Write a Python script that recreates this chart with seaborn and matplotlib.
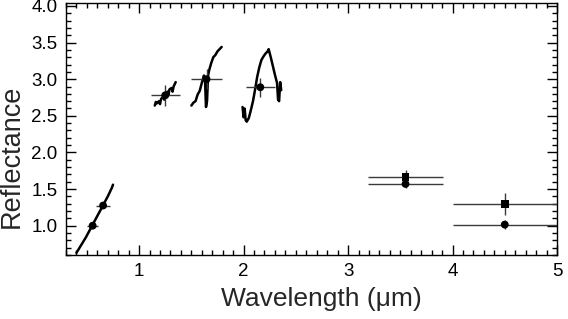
import matplotlib
matplotlib.use("Agg")
import matplotlib.pyplot as plt
from matplotlib.ticker import MultipleLocator
import seaborn as sns
import pandas as pd

# Spectra segments (wavelength in micron, reflectance)
wl_a = [0.40, 0.43, 0.46, 0.49, 0.52, 0.55, 0.58, 0.61, 0.64, 0.67, 0.70, 0.72, 0.74, 0.75]
r_a = [0.63, 0.70, 0.77, 0.84, 0.92, 1.00, 1.08, 1.16, 1.24, 1.32, 1.40, 1.46, 1.52, 1.56]

wl_b = [1.15, 1.16, 1.17, 1.19, 1.20, 1.21, 1.23, 1.24, 1.25, 1.27, 1.28, 1.29, 1.31, 1.32, 1.33, 1.35]
r_b = [2.64, 2.69, 2.67, 2.70, 2.66, 2.73, 2.76, 2.72, 2.78, 2.83, 2.78, 2.86, 2.88, 2.83, 2.90, 2.96]

wl_c = [1.50, 1.52, 1.54, 1.56, 1.58, 1.60, 1.62, 1.63, 1.64, 1.65, 1.66, 1.67, 1.69, 1.71, 1.73, 1.75, 1.77, 1.79]
r_c = [2.64, 2.68, 2.70, 2.79, 2.84, 2.95, 3.05, 3.02, 2.62, 2.70, 3.05, 3.12, 3.22, 3.30, 3.33, 3.38, 3.41, 3.44]

wl_d = [1.99, 2.00, 2.01, 2.02, 2.03, 2.05, 2.07, 2.09, 2.11, 2.13, 2.15, 2.17, 2.19, 2.21,
        2.23, 2.24, 2.26, 2.28, 2.30, 2.32, 2.33, 2.34, 2.35, 2.36]
r_d = [2.62, 2.48, 2.60, 2.44, 2.42, 2.47, 2.58, 2.70, 2.86, 3.03, 3.16, 3.26, 3.31, 3.35,
       3.38, 3.41, 3.30, 3.18, 3.06, 2.95, 2.72, 2.70, 2.96, 2.85]

# Photometric points with error bars
pt_x = [0.555, 0.655, 1.25, 1.645, 2.16, 3.55, 3.55, 4.50, 4.50]
pt_y = [1.00, 1.275, 2.78, 3.00, 2.89, 1.665, 1.57, 1.30, 1.015]
pt_xerr = [0.05, 0.065, 0.14, 0.145, 0.14, 0.36, 0.36, 0.50, 0.50]
pt_yerr = [0.03, 0.03, 0.14, 0.14, 0.13, 0.09, 0.06, 0.15, 0.06]
pt_kind = ["o", "o", "o", "o", "o", "s", "o", "s", "o"]

y_ticks = [1.0, 1.5, 2.0, 2.5, 3.0, 3.5, 4.0]
y_labels = ["1.0", "1.5", "2.0", "2.5", "3.0", "3.5", "4.0"]
x_ticks = [1, 2, 3, 4, 5]
x_labels = ["1", "2", "3", "4", "5"]

sns.set_style("ticks")
plt.rcParams["font.family"] = ["Liberation Sans", "DejaVu Sans"]

fig = plt.figure(figsize=(5.68, 3.19), dpi=100)
ax = fig.add_axes([66 / 568, 1 - 255 / 319, (557 - 66) / 568, (255 - 3) / 319])

segments = [(wl_a, r_a), (wl_b, r_b), (wl_c, r_c), (wl_d, r_d)]
for w, r in segments:
    df = pd.DataFrame({"wl": w, "r": r})
    sns.lineplot(data=df, x="wl", y="r", ax=ax, color="black", lw=1.8,
                 sort=False, estimator=None)

ax.errorbar(pt_x, pt_y, xerr=pt_xerr, yerr=pt_yerr, fmt="none",
            ecolor="#3a3a3a", elinewidth=1.0, capsize=0, zorder=3)
pdf = pd.DataFrame({"x": pt_x, "y": pt_y, "m": pt_kind})
sns.scatterplot(data=pdf, x="x", y="y", style="m", markers={"o": "o", "s": "s"},
                color="black", s=32, edgecolor="black", linewidth=0, ax=ax,
                legend=False, zorder=4)

ax.set_xlim(0.3, 5.0)
ax.set_ylim(0.6, 4.04)
ax.xaxis.set_minor_locator(MultipleLocator(0.1))
ax.yaxis.set_minor_locator(MultipleLocator(0.1))
ax.set_yticks(y_ticks)
ax.set_yticklabels(y_labels)
ax.set_xticks(x_ticks)
ax.set_xticklabels(x_labels)
ax.tick_params(which="both", direction="in", top=True, right=True, colors="black",
               labelsize=13.5, width=1)
ax.tick_params(which="major", length=7, pad=6)
ax.tick_params(which="minor", length=3.5)
for s in ax.spines.values():
    s.set_linewidth(1.0)
    s.set_color("black")

ax.set_xlabel("Wavelength (\u03bcm)", fontsize=19)
ax.set_ylabel("Reflectance", fontsize=19.5)
ax.xaxis.set_label_coords(0.52, -0.128)
ax.yaxis.set_label_coords(-0.083, 0.39)

fig.savefig("out.png", dpi=100)
